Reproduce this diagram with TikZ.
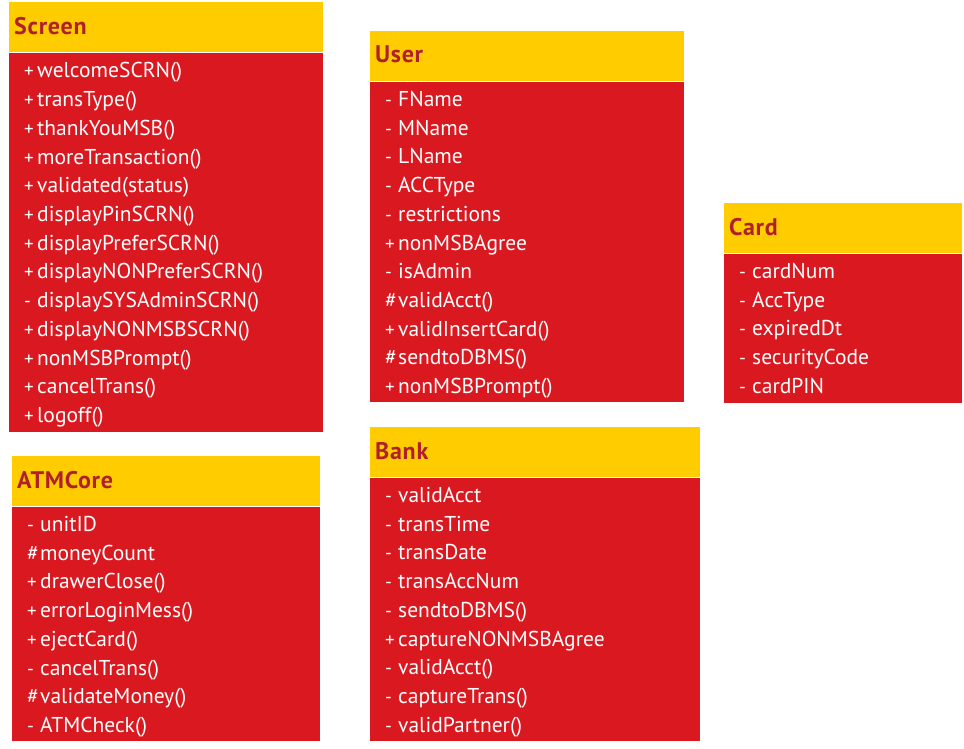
\documentclass[tikz,border=0pt]{standalone}
\usepackage{fontspec}
\setmainfont{PT Sans}
\definecolor{hdr}{HTML}{FFCC00}
\definecolor{bdy}{HTML}{DA1820}
\definecolor{ttl}{HTML}{B0202A}
\newcommand\hashsign{{\fontsize{21.5}{26}\selectfont\#}}
\tikzset{
  hdrbox/.style={fill=hdr, draw=white, line width=0.8pt, anchor=north west, inner sep=0pt, outer sep=0pt},
  bdybox/.style={fill=bdy, draw=white, line width=0.8pt, anchor=north west, inner sep=0pt, outer sep=0pt},
  ttltext/.style={anchor=base west, inner sep=0pt, text=ttl, font=\bfseries\fontsize{24}{28}\selectfont\addfontfeatures{LetterSpace=3}},
  rowtext/.style={anchor=base west, inner sep=0pt, text=white, font=\fontsize{21.5}{26}\selectfont},
  signtext/.style={anchor=base west, inner sep=0pt, text=white, font=\fontsize{19}{24}\selectfont}
}
% #1 name, #2 x, #3 y top, #4 width, #5 body height, #6 title, #7 rows (sign/text)
\newcommand\umlclass[7]{%
  \node[hdrbox, minimum width=#4pt, minimum height=51pt] (#1-h) at (#2,#3) {};
  \node[bdybox, minimum width=#4pt, minimum height=#5pt] (#1-b) at (#2,#3+51) {};
  \node[ttltext] (#1-t) at ({#2+6},{#3+33}) {#6};
  \foreach \s/\r [count=\i] in {#7} {
    \node[signtext] (#1-s\i) at ({#2+16},{#3+51+25.5+(\i-1)*28.7}) {\s};
    \node[rowtext] (#1-r\i) at ({#2+29},{#3+51+25.5+(\i-1)*28.7}) {\r};
  }
}
\begin{document}
\begin{tikzpicture}[x=1pt,y=-1pt]
\useasboundingbox (0,0) rectangle (964,749);
\umlclass{screen}{8}{1.5}{315}{379.5}{Screen}{+/welcomeSCRN(), +/transType(), +/thankYouMSB(), +/moreTransaction(), +/validated(status), +/displayPinSCRN(), +/displayPreferSCRN(), +/displayNONPreferSCRN(), -/displaySYSAdminSCRN(), +/displayNONMSBSCRN(), +/nonMSBPrompt(), +/cancelTrans(), +/logoff()}
\umlclass{user}{369}{30}{315}{321}{User}{-/FName, -/MName, -/LName, -/ACCType, -/restrictions, +/nonMSBAgree, -/isAdmin, \hashsign/validAcct(), +/validInsertCard(), \hashsign/sendtoDBMS(), +/nonMSBPrompt()}
\umlclass{card}{723}{202}{239}{150}{Card}{-/cardNum, -/AccType, -/expiredDt, -/securityCode, -/cardPIN}
\umlclass{atm}{11}{455}{309}{235}{ATMCore}{-/unitID, \hashsign/moneyCount, +/drawerClose(), +/errorLoginMess(), +/ejectCard(), -/cancelTrans(), \hashsign/validateMoney(), -/ATMCheck()}
\umlclass{bank}{369}{426}{331}{264}{Bank}{-/validAcct, -/transTime, -/transDate, -/transAccNum, -/sendtoDBMS(), +/captureNONMSBAgree, -/validAcct(), -/captureTrans(), -/validPartner()}
\end{tikzpicture}
\end{document}
